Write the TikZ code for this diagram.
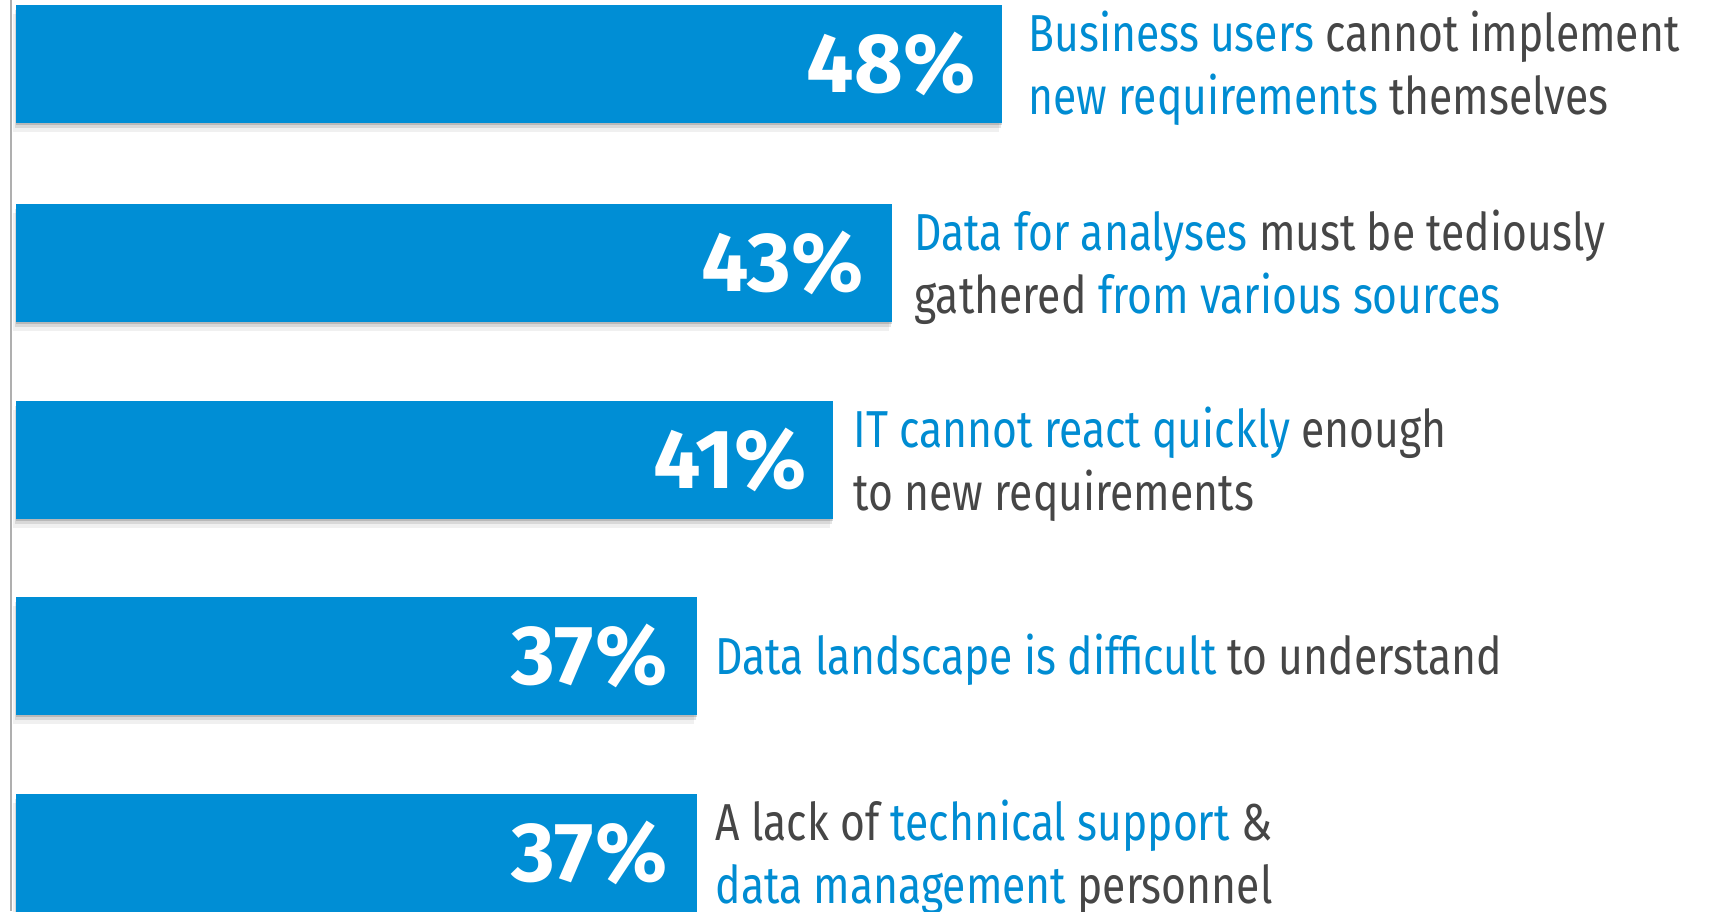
\documentclass[tikz,border=0pt]{standalone}
\usepackage{fontspec}
\setmainfont{Fira Sans}[FakeStretch=0.82]
\newfontfamily\pctfont{Fira Sans}
\usepackage{xcolor}
\usepackage{tikz}
\usetikzlibrary{positioning}
\usetikzlibrary{shadows}
\definecolor{barblue}{RGB}{0,142,213}
\definecolor{txtblue}{RGB}{0,140,210}
\definecolor{txtgray}{RGB}{70,70,70}
\definecolor{axisgray}{RGB}{175,175,175}
\tikzstyle{bar} = [fill=barblue, inner sep=0pt, minimum height=118pt, anchor=north west,
	drop shadow={shadow xshift=0pt, shadow yshift=-2pt, opacity=0.15, fill=black},
	drop shadow={shadow xshift=-1pt, shadow yshift=-5pt, opacity=0.10, fill=black},
	drop shadow={shadow xshift=-3pt, shadow yshift=-9pt, opacity=0.06, fill=black}]
\tikzstyle{pct} = [text=white, inner sep=0pt, font=\pctfont\bfseries\fontsize{84}{84}\selectfont]
\tikzstyle{note} = [text=txtgray, inner sep=0pt, align=left, anchor=west, yshift=-4pt,
	font=\fontsize{52}{63}\selectfont]
\newcommand{\hl}[1]{\textcolor{txtblue}{#1}}

\begin{document}
\begin{tikzpicture}[x=1pt,y=-1pt]
   \useasboundingbox (0,0) rectangle (1712,911);
   \draw[axisgray, line width=1.5pt] (11,0) -- (11,911);

   \node[bar, minimum width=986pt] (b48) at (16,5) {};
   \node[pct, left=27pt of b48.east] (p48) {48\%};
   \node[note, right=26pt of b48] (t48) {\hl{Business users} cannot implement\\\hl{new requirements} themselves};

   \node[bar, minimum width=876pt] (b43) at (16,204) {};
   \node[pct, left=29pt of b43.east] (p43) {43\%};
   \node[note, right=22pt of b43] (t43) {\hl{Data for analyses} must be tediously\\gathered \hl{from various sources}};

   \node[bar, minimum width=817pt] (b41) at (16,401) {};
   \node[pct, left=27pt of b41.east] (p41) {41\%};
   \node[note, right=20pt of b41] (t41) {\hl{IT cannot react quickly} enough\\to new requirements};

   \node[bar, minimum width=681pt] (b37a) at (16,597) {};
   \node[pct, left=30pt of b37a.east] (p37a) {37\%};
   \node[note, right=18pt of b37a] (t37a) {\hl{Data landscape is difficult} to understand};

   \node[bar, minimum width=681pt] (b37b) at (16,794) {};
   \node[pct, left=30pt of b37b.east] (p37b) {37\%};
   \node[note, right=18pt of b37b] (t37b) {A lack of \hl{technical support} \&\\\hl{data management} personnel};
\end{tikzpicture}
\end{document}
